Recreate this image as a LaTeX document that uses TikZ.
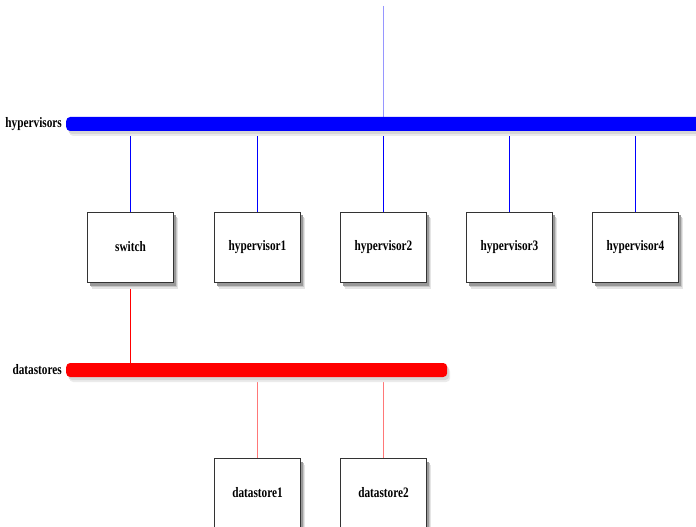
\documentclass[tikz,border=0pt]{standalone}
\usepackage{fontspec}
\setmainfont{Liberation Serif}
\usetikzlibrary{backgrounds}
\definecolor{topline}{RGB}{150,150,255}
\definecolor{pinkline}{RGB}{255,120,120}
\begin{document}
\begin{tikzpicture}[x=1bp,y=-1bp,
  boxshadow/.style={
    preaction={fill=black!10, draw=none, rounded corners=3bp, transform canvas={shift={(4.5bp,-6.5bp)}}},
    preaction={fill=black!22, draw=none, rounded corners=2bp, transform canvas={shift={(3.5bp,-5bp)}}},
    preaction={fill=black!40, draw=none, transform canvas={shift={(2.5bp,-3.5bp)}}}},
  barshadow/.style={
    preaction={fill=black!8, draw=none, transform canvas={shift={(3bp,-5bp)}}},
    preaction={fill=black!16, draw=none, transform canvas={shift={(2bp,-3bp)}}}},
  box/.style={boxshadow, draw=black!80, line width=0.8bp, fill=white, minimum width=86bp, minimum height=70bp, inner sep=0pt,
    font=\bfseries\fontsize{14.5}{16}\selectfont},
  netbar/.style={barshadow, rounded corners=4bp, inner sep=0pt, minimum height=14bp},
  netlabel/.style={anchor=east, inner sep=0pt, font=\bfseries\fontsize{14.5}{16}\selectfont},
  conn/.style={line width=1.2bp}]
\useasboundingbox (0,0) rectangle (696,527);
% networks
\node[netbar, fill=blue, minimum width=640bp, anchor=west] (hv) at (66,124) {};
\node[netlabel] (hvl) at (62,124) {\scalebox{0.78}[1]{hypervisors}};
\node[netbar, fill=red, minimum width=381bp, anchor=west] (ds) at (66,370) {};
\node[netlabel] (dsl) at (62,370) {\scalebox{0.78}[1]{datastores}};
% top line
\coordinate (top) at (383.5,6);
% nodes
\node[box] (sw) at (130.5,247) {\scalebox{0.78}[1]{switch}};
\node[box] (h1) at (257.5,247) {\scalebox{0.78}[1]{hypervisor1}};
\node[box] (h2) at (383.5,247) {\scalebox{0.78}[1]{hypervisor2}};
\node[box] (h3) at (509.5,247) {\scalebox{0.78}[1]{hypervisor3}};
\node[box] (h4) at (635.5,247) {\scalebox{0.78}[1]{hypervisor4}};
\node[box] (d1) at (257.5,493) {\scalebox{0.78}[1]{datastore1}};
\node[box] (d2) at (383.5,493) {\scalebox{0.78}[1]{datastore2}};
% connectors
\begin{scope}[on background layer]
\draw[conn, draw=topline, line width=1.6bp] (top) -- (top |- hv.north);
\draw[conn, draw=blue] (sw.north |- hv.south) -- (sw.north);
\draw[conn, draw=blue] (h1.north |- hv.south) -- (h1.north);
\draw[conn, draw=blue] (h2.north |- hv.south) -- (h2.north);
\draw[conn, draw=blue] (h3.north |- hv.south) -- (h3.north);
\draw[conn, draw=blue] (h4.north |- hv.south) -- (h4.north);
\draw[conn, draw=red] (sw.south) -- (sw.south |- ds.north);
\draw[conn, draw=pinkline] (d1.north |- ds.south) -- (d1.north);
\draw[conn, draw=pinkline] (d2.north |- ds.south) -- (d2.north);
\end{scope}
\end{tikzpicture}
\end{document}
